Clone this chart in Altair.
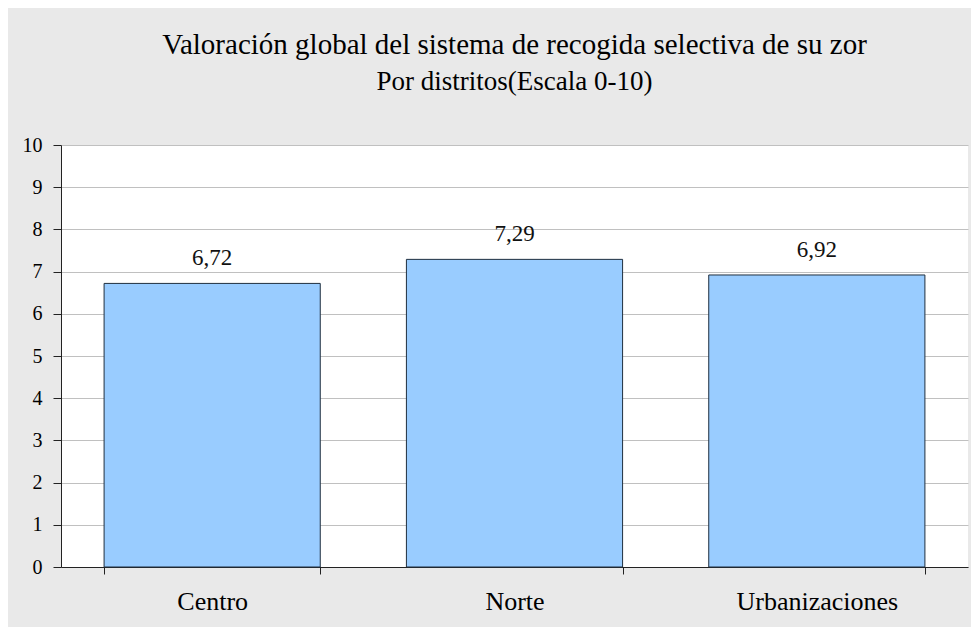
import altair as alt
import pandas as pd

categories = ["Centro", "Norte", "Urbanizaciones"]
values = [6.72, 7.29, 6.92]
labels = ["6,72", "7,29", "6,92"]
y_ticks = [0, 1, 2, 3, 4, 5, 6, 7, 8, 9, 10]

df = pd.DataFrame({"distrito": categories, "valor": values, "etiqueta": labels})

FONT = "'Liberation Serif', 'Times New Roman', Times, serif"

x_enc = alt.X(
    "distrito:N",
    sort=categories,
    scale=alt.Scale(paddingInner=0.285, paddingOuter=0.1425),
    axis=alt.Axis(
        title=None,
        labelAngle=0,
        labelFontSize=26,
        labelFont=FONT,
        labelColor="#000000",
        labelPadding=14,
        tickBand="extent",
        tickSize=7,
        tickColor="#222222",
        domainColor="#222222",
        grid=False,
    ),
)

y_enc = alt.Y(
    "valor:Q",
    scale=alt.Scale(domain=[0, 10], nice=False),
    axis=alt.Axis(
        title=None,
        values=y_ticks,
        labelFontSize=20,
        labelFont=FONT,
        labelColor="#000000",
        labelPadding=11,
        tickSize=8,
        tickColor="#222222",
        domainColor="#222222",
        gridColor="#c0c0c0",
        gridWidth=1,
    ),
)

bars = alt.Chart(df).mark_bar(
    color="#99ccff", stroke="#1f2f3f", strokeWidth=1
).encode(x=x_enc, y=y_enc)

text = alt.Chart(df).mark_text(
    font=FONT, fontSize=23, color="#111111", baseline="alphabetic", dy=-18
).encode(x=alt.X("distrito:N", sort=categories), y="valor:Q", text="etiqueta:N")

chart = (
    alt.layer(bars, text)
    .properties(
        width=907,
        height=422,
        title=alt.TitleParams(
            text="Valoración global del sistema de recogida selectiva de su zor",
            subtitle="Por distritos(Escala 0-10)",
            font=FONT,
            fontSize=29,
            fontWeight="normal",
            color="#000000",
            subtitleFont=FONT,
            subtitleFontSize=27,
            subtitleColor="#000000",
            subtitlePadding=9,
            anchor="middle",
            offset=40,
        ),
        autosize=alt.AutoSizeParams(type="none"),
        padding={"left": 53, "top": 137, "right": 3, "bottom": 60},
        background="#e9e9e9",
    )
    .configure_view(fill="white", stroke=None)
)

chart.save("out.html", embed_options={"renderer": "svg", "actions": False})
